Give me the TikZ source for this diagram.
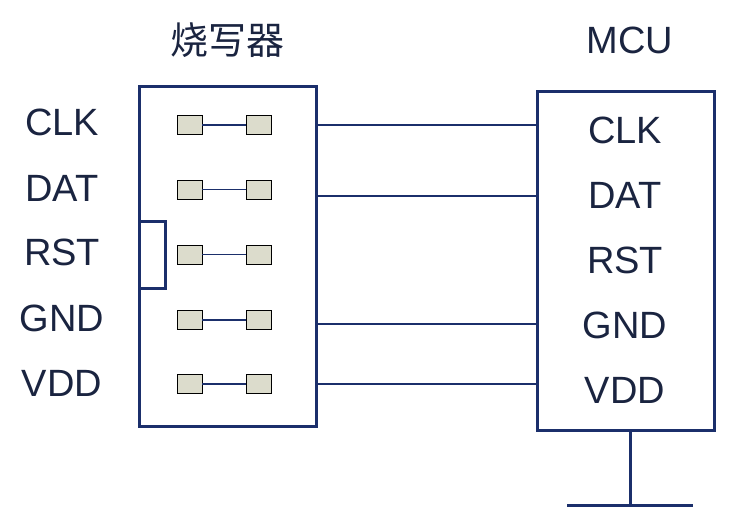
\documentclass[tikz,border=0pt]{standalone}
\usepackage{fontspec}
\setmainfont{Liberation Sans}
\newfontfamily\cjk{Noto Sans CJK SC}
\definecolor{navy}{HTML}{1B2F6B}
\definecolor{txt}{HTML}{1A2440}
\definecolor{pinf}{HTML}{DCDCCC}
\begin{document}
\begin{tikzpicture}[x=1pt,y=-1pt,
  box/.style={draw=navy,line width=3pt},
  wire/.style={draw=navy,line width=2.2pt},
  pin/.style={draw=black,fill=pinf,line width=0.8pt,minimum width=25pt,minimum height=19pt,inner sep=0pt},
  lbl/.style={text=txt,font=\fontsize{38}{38}\selectfont,inner sep=0pt}]
\useasboundingbox (0,0) rectangle (731,513);
\draw[box] (139,87) rectangle (316,426);
\draw[box] (139,222) -- (165,222) -- (165,288) -- (139,288);
\draw[box] (537,92) rectangle (714,430);
\coordinate (lb) at (316,0);
\coordinate (rb) at (537,0);
\foreach \i/\y in {1/125,2/189.5,3/254.5,4/320,5/384}{
  \node[pin] (pa\i) at (189.5,\y) {};
  \node[pin] (pb\i) at (258.5,\y) {};
  \draw[wire,line width=1.8pt] (pa\i.east) -- (pb\i.west);
}
\foreach \y in {125,196,324,384}{
  \coordinate (s) at (316,\y); \coordinate (e) at (537,\y);
  \draw[wire] (s) -- (e);
}
\foreach \t/\y in {CLK/122,DAT/188,RST/252,GND/318,VDD/383}{
  \node[lbl] (l\t) at (62,\y) {\t};
}
\foreach \t/\y in {CLK/130,DAT/195,RST/260,GND/325,VDD/390}{
  \node[lbl] (r\t) at (625,\y) {\t};
}
\node[lbl] (t1) at (227,40) {\cjk 烧写器};
\node[lbl] (t2) at (630,40) {MCU};
\coordinate (g1) at (630,430); \coordinate (g2) at (630,505);
\coordinate (g3) at (567,505); \coordinate (g4) at (693,505);
\draw[wire,line width=3pt] (g1) -- (g2);
\draw[wire,line width=3pt] (g3) -- (g4);
\end{tikzpicture}
\end{document}
